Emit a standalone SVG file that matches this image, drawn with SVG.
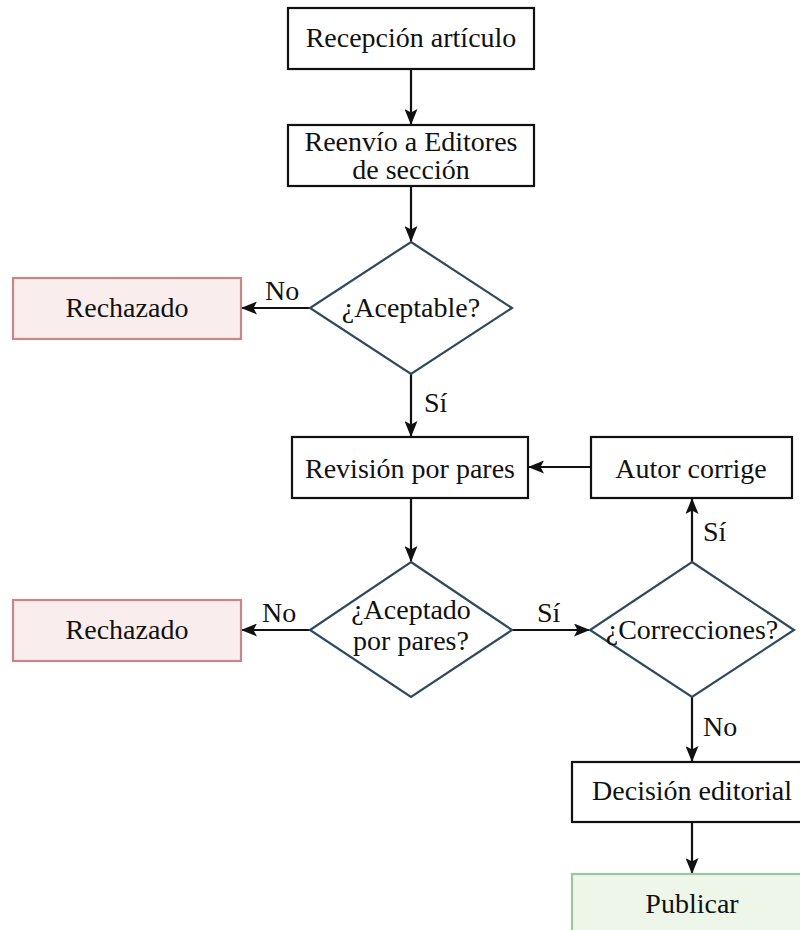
<svg xmlns="http://www.w3.org/2000/svg" width="800" height="930" viewBox="0 0 800 930">
<defs>
<style>
text{font-family:"Liberation Serif","Times New Roman",serif;font-size:28px;fill:#111;text-anchor:middle}
.lbl{text-anchor:start}
.box{fill:#fff;stroke:#111;stroke-width:2.2}
.rej{fill:#f9eded;stroke:#c98686;stroke-width:2.2}
.ok{fill:#eef6ea;stroke:#9cc79a;stroke-width:2.2}
.dia{fill:#fff;stroke:#2f4a5e;stroke-width:2.2}
.edge{fill:none;stroke:#111;stroke-width:2.2;marker-end:url(#ah)}
</style>
<marker id="ah" viewBox="0 0 16 13" refX="15" refY="6.5" markerWidth="16" markerHeight="13" markerUnits="userSpaceOnUse" orient="auto">
<path d="M0,0 L16,6.5 L0,13 L3.5,6.5 Z" fill="#111"/>
</marker>
</defs>
<rect width="800" height="930" fill="#fff"/>
<g id="connectors">
<path class="edge" d="M411,69 V124"/>
<path class="edge" d="M411,186 V241"/>
<path class="edge" d="M310,308 H242"/>
<path class="edge" d="M411,374 V436"/>
<path class="edge" d="M591,467 H529"/>
<path class="edge" d="M411,498 V561"/>
<path class="edge" d="M310,630 H242"/>
<path class="edge" d="M512,630 H589"/>
<path class="edge" d="M692,562 V499"/>
<path class="edge" d="M692,697 V761"/>
<path class="edge" d="M692,822 V873"/>
<text class="lbl" x="265" y="300">No</text>
<text class="lbl" x="424" y="412">Sí</text>
<text class="lbl" x="262" y="622">No</text>
<text class="lbl" x="537" y="622">Sí</text>
<text class="lbl" x="703" y="541">Sí</text>
<text class="lbl" x="703" y="736">No</text>
</g>
<g id="recepcion">
<rect class="box" x="288" y="8" width="246" height="61"/>
<text x="411" y="47">Recepción artículo</text>
</g>
<g id="reenvio">
<rect class="box" x="288" y="125" width="246" height="61"/>
<text x="411" y="151">Reenvío a Editores</text>
<text x="411" y="179">de sección</text>
</g>
<g id="aceptable">
<polygon class="dia" points="411,242 512,308 411,374 310,308"/>
<text x="411" y="317">¿Aceptable?</text>
</g>
<g id="rechazado1">
<rect class="rej" x="13" y="278" width="228" height="61"/>
<text x="127" y="317">Rechazado</text>
</g>
<g id="revision">
<rect class="box" x="292" y="437" width="236" height="61"/>
<text x="410" y="478">Revisión por pares</text>
</g>
<g id="autor">
<rect class="box" x="591" y="437" width="201" height="61"/>
<text x="691" y="478">Autor corrige</text>
</g>
<g id="aceptado">
<polygon class="dia" points="411,562 512,630 411,697 310,630"/>
<text x="411" y="619">¿Aceptado</text>
<text x="411" y="650">por pares?</text>
</g>
<g id="rechazado2">
<rect class="rej" x="13" y="600" width="228" height="61"/>
<text x="127" y="639">Rechazado</text>
</g>
<g id="correcciones">
<polygon class="dia" points="692,562 794,630 692,697 590,630"/>
<text x="692" y="639">¿Correcciones?</text>
</g>
<g id="decision">
<rect class="box" x="572" y="762" width="250" height="60"/>
<text x="692" y="800">Decisión editorial</text>
</g>
<g id="publicar">
<rect class="ok" x="572" y="874" width="250" height="70"/>
<text x="692" y="913">Publicar</text>
</g>
</svg>
